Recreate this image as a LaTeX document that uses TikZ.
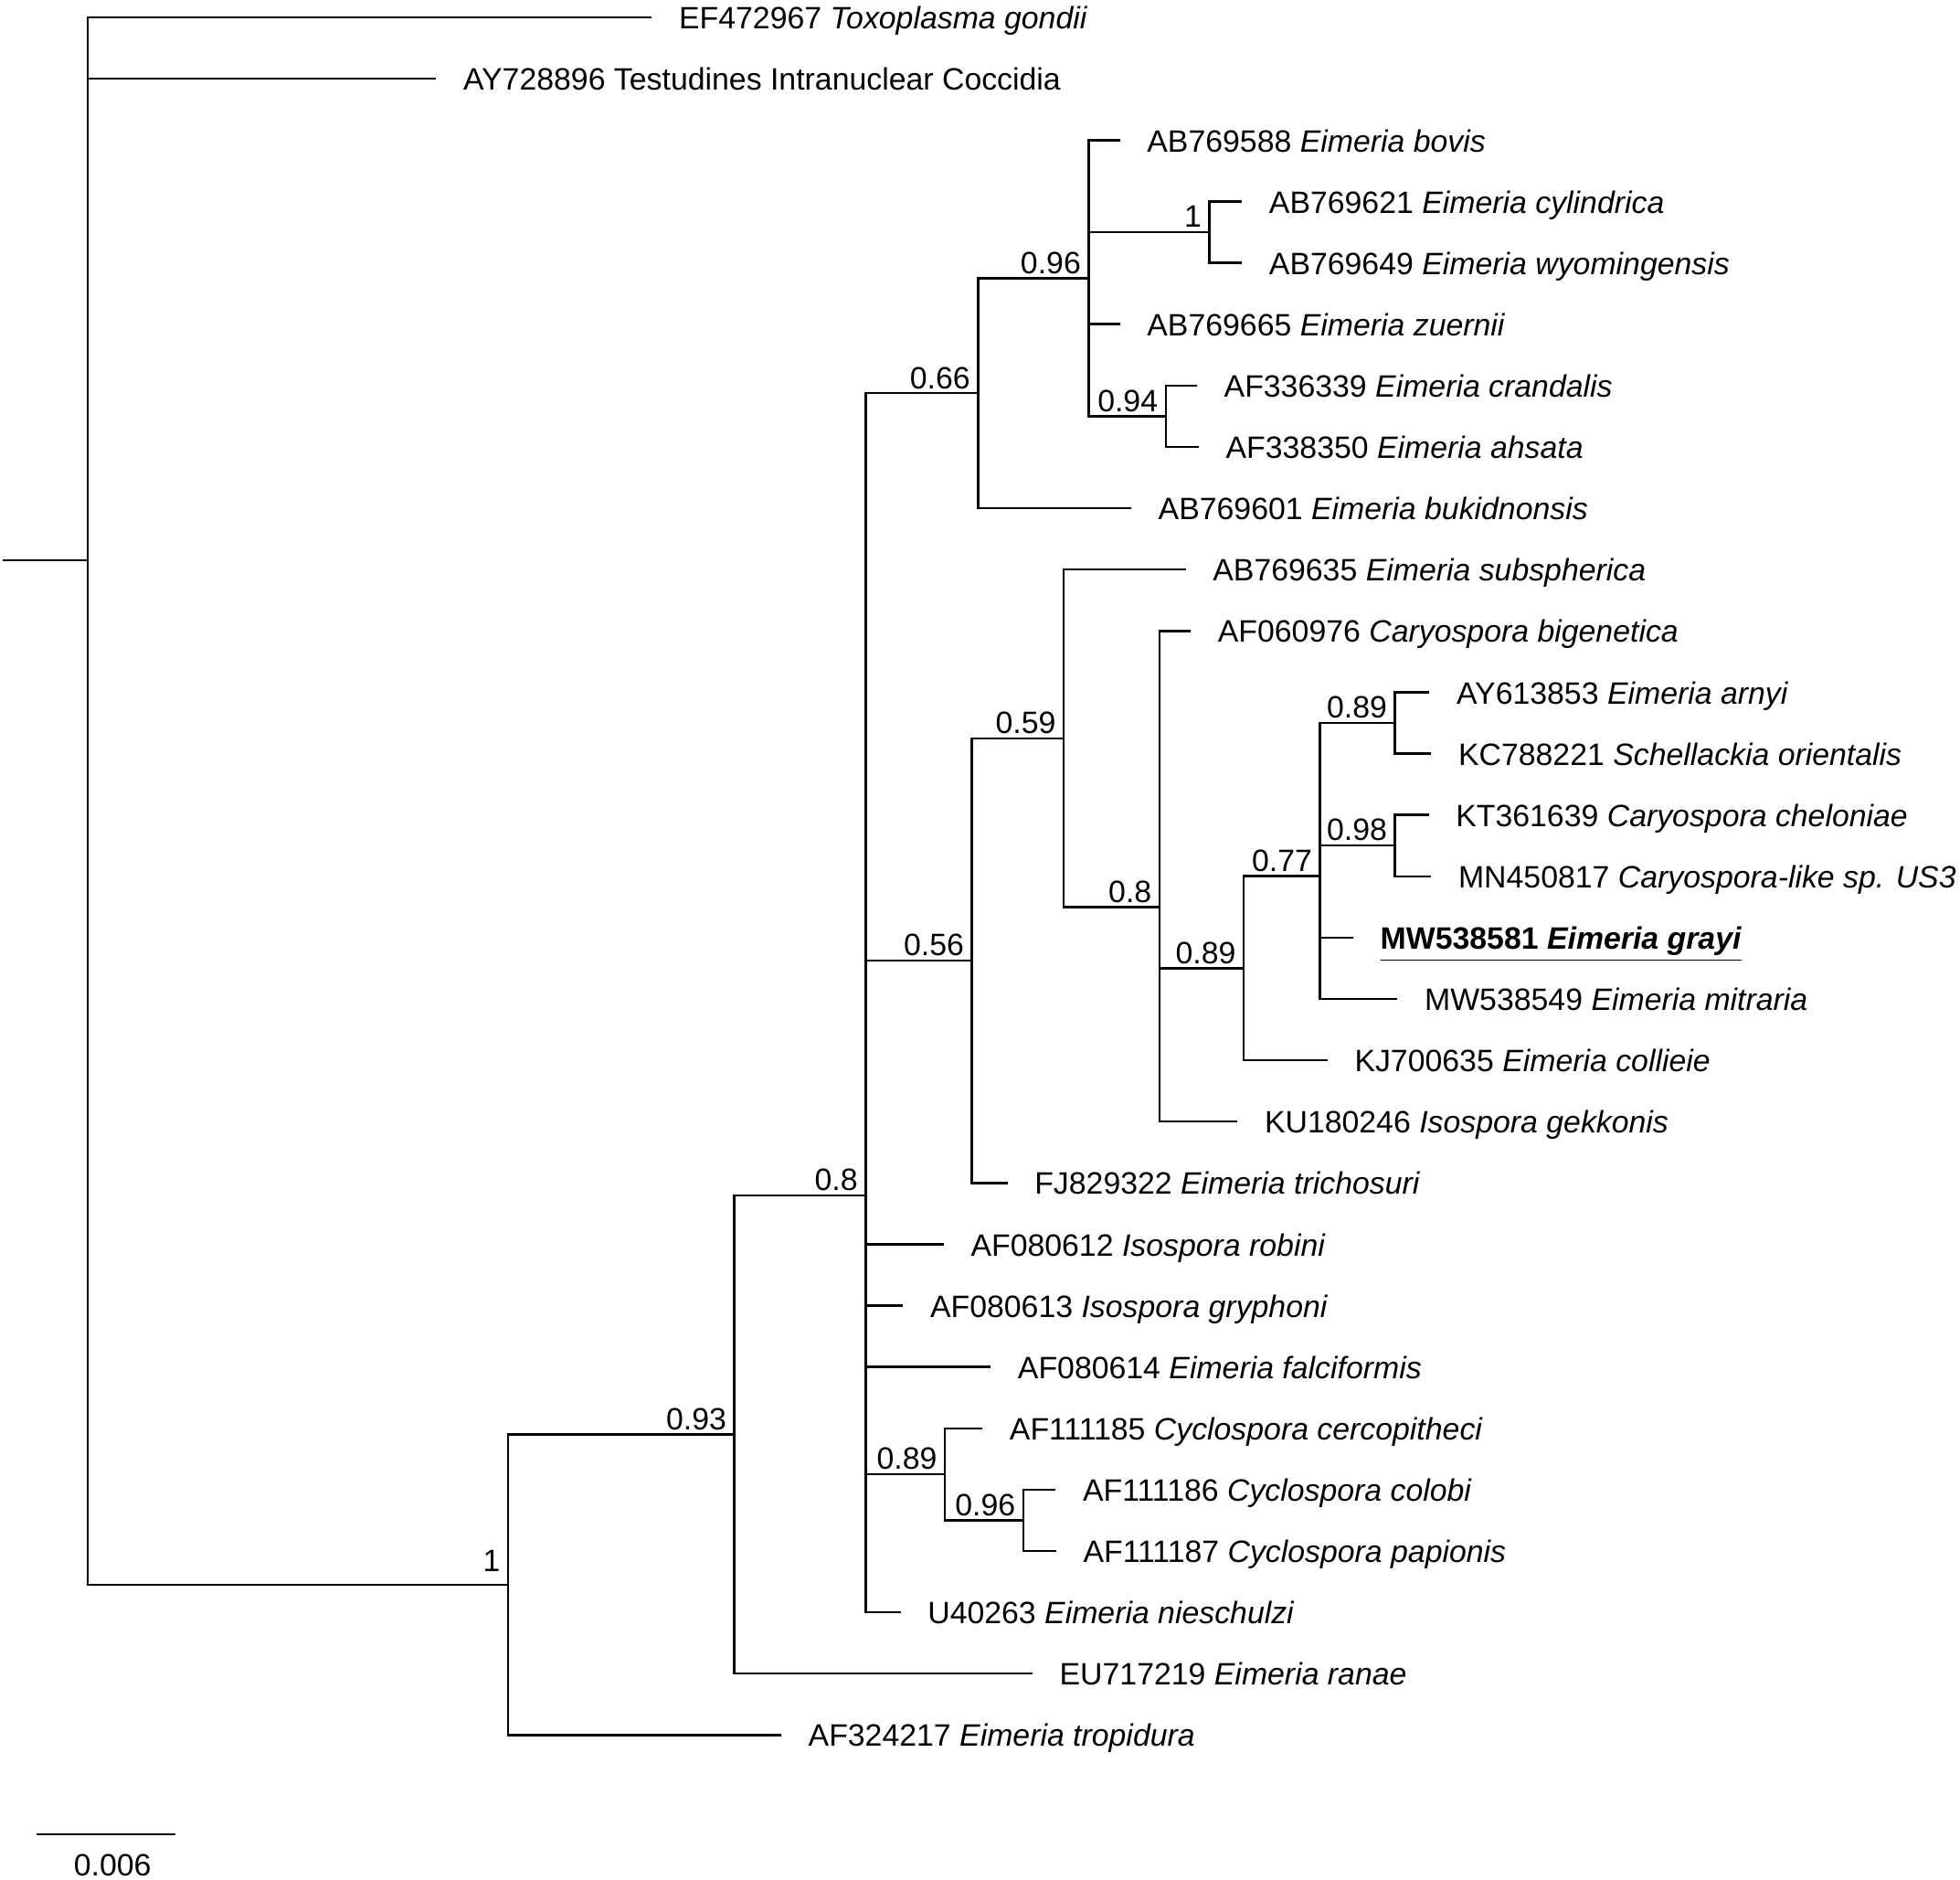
\documentclass[tikz,border=0pt]{standalone}
\usepackage{fontspec}
\setmainfont{Liberation Sans}
\usepackage{tikz}
\usetikzlibrary{positioning}

\begin{document}
\begin{tikzpicture}[
      x=0.01368cm, y=-0.01368cm,
      font=\fontsize{9.63}{11.5}\selectfont,
      branch/.style={line width=0.7pt},
      tip/.style={anchor=west, inner xsep=2.9mm, inner ysep=0pt, text height=0.72em, text depth=0pt},
      supp/.style={anchor=south east, inner xsep=0.8mm, inner ysep=0.45mm, text height=0.72em, text depth=0pt}
    ]
      \useasboundingbox (0,0) rectangle (1568,1503);

      % inner nodes of the tree
      \coordinate (stub) at (2.5,448.2);
      \coordinate (root) at (70,448.2);
      \coordinate (nA) at (406.5,1267.5);
      \coordinate (nB) at (587.5,1147.3);
      \coordinate (nC) at (692.5,956);
      \coordinate (nD) at (782.5,314.5);
      \coordinate (nE) at (871,222.5);
      \coordinate (nF) at (967.6,185.7);
      \coordinate (nG) at (932.6,332.9);
      \coordinate (nH) at (777.5,768.3);
      \coordinate (nI) at (851,590.5);
      \coordinate (nJ) at (927.6,725.4);
      \coordinate (nK) at (995,774.4);
      \coordinate (nL) at (1056,700.8);
      \coordinate (nM) at (1116,578.2);
      \coordinate (nN) at (1116,676.3);
      \coordinate (nO) at (756,1179.2);
      \coordinate (nP) at (818.6,1216);

      % tips
      \node[tip] (t00) at (521.5,14) {EF472967 \textit{Toxoplasma gondii}};
      \node[tip] (t01) at (349,63.06) {AY728896 Testudines Intranuclear Coccidia};
      \node[tip] (t02) at (896,112.12) {AB769588 \textit{Eimeria bovis}};
      \node[tip] (t03) at (993.6,161.18) {AB769621 \textit{Eimeria cylindrica}};
      \node[tip] (t04) at (993.6,210.24) {AB769649 \textit{Eimeria wyomingensis}};
      \node[tip] (t05) at (896,259.3) {AB769665 \textit{Eimeria zuernii}};
      \node[tip] (t06) at (957.6,308.36) {AF336339 \textit{Eimeria crandalis}};
      \node[tip] (t07) at (959,357.42) {AF338350 \textit{Eimeria ahsata}};
      \node[tip] (t08) at (905,406.48) {AB769601 \textit{Eimeria bukidnonsis}};
      \node[tip] (t09) at (948.6,455.54) {AB769635 \textit{Eimeria subspherica}};
      \node[tip] (t10) at (952.6,504.6) {AF060976 \textit{Caryospora bigenetica}};
      \node[tip] (t11) at (1143.6,553.66) {AY613853 \textit{Eimeria arnyi}};
      \node[tip] (t12) at (1145,602.72) {KC788221 \textit{Schellackia orientalis}};
      \node[tip] (t13) at (1143,651.78) {KT361639 \textit{Caryospora cheloniae}};
      \node[tip] (t14) at (1145,700.84) {MN450817 \textit{Caryospora-like sp. US3}};
      \node[tip] (t15) at (1082.6,749.9) {\underline{\textbf{MW538581 \textit{Eimeria grayi}}}};
      \node[tip] (t16) at (1118,798.96) {MW538549 \textit{Eimeria mitraria}};
      \node[tip] (t17) at (1062,848.02) {KJ700635 \textit{Eimeria collieie}};
      \node[tip] (t18) at (990,897.08) {KU180246 \textit{Isospora gekkonis}};
      \node[tip] (t19) at (806,946.14) {FJ829322 \textit{Eimeria trichosuri}};
      \node[tip] (t20) at (755,995.2) {AF080612 \textit{Isospora robini}};
      \node[tip] (t21) at (722.5,1044.26) {AF080613 \textit{Isospora gryphoni}};
      \node[tip] (t22) at (792.6,1093.32) {AF080614 \textit{Eimeria falciformis}};
      \node[tip] (t23) at (786,1142.38) {AF111185 \textit{Cyclospora cercopitheci}};
      \node[tip] (t24) at (844.6,1191.44) {AF111186 \textit{Cyclospora colobi}};
      \node[tip] (t25) at (845,1240.5) {AF111187 \textit{Cyclospora papionis}};
      \node[tip] (t26) at (720.5,1289.56) {U40263 \textit{Eimeria nieschulzi}};
      \node[tip] (t27) at (826,1338.62) {EU717219 \textit{Eimeria ranae}};
      \node[tip] (t28) at (625,1387.68) {AF324217 \textit{Eimeria tropidura}};

      % branches
      \draw[branch] (stub) -- (root);
      \draw[branch] (root) |- (t00.west);
      \draw[branch] (root) |- (t01.west);
      \draw[branch] (root) |- (nA);
      \draw[branch] (nA) |- (nB);
      \draw[branch] (nA) |- (t28.west);
      \draw[branch] (nB) |- (nC);
      \draw[branch] (nB) |- (t27.west);
      \draw[branch] (nC) |- (nD);
      \draw[branch] (nC) |- (nH);
      \draw[branch] (nC) |- (t20.west);
      \draw[branch] (nC) |- (t21.west);
      \draw[branch] (nC) |- (t22.west);
      \draw[branch] (nC) |- (nO);
      \draw[branch] (nC) |- (t26.west);
      \draw[branch] (nD) |- (nE);
      \draw[branch] (nD) |- (t08.west);
      \draw[branch] (nE) |- (t02.west);
      \draw[branch] (nE) |- (nF);
      \draw[branch] (nE) |- (t05.west);
      \draw[branch] (nE) |- (nG);
      \draw[branch] (nF) |- (t03.west);
      \draw[branch] (nF) |- (t04.west);
      \draw[branch] (nG) |- (t06.west);
      \draw[branch] (nG) |- (t07.west);
      \draw[branch] (nH) |- (nI);
      \draw[branch] (nH) |- (t19.west);
      \draw[branch] (nI) |- (t09.west);
      \draw[branch] (nI) |- (nJ);
      \draw[branch] (nJ) |- (t10.west);
      \draw[branch] (nJ) |- (nK);
      \draw[branch] (nJ) |- (t18.west);
      \draw[branch] (nK) |- (nL);
      \draw[branch] (nK) |- (t17.west);
      \draw[branch] (nL) |- (nM);
      \draw[branch] (nL) |- (nN);
      \draw[branch] (nL) |- (t15.west);
      \draw[branch] (nL) |- (t16.west);
      \draw[branch] (nM) |- (t11.west);
      \draw[branch] (nM) |- (t12.west);
      \draw[branch] (nN) |- (t13.west);
      \draw[branch] (nN) |- (t14.west);
      \draw[branch] (nO) |- (t23.west);
      \draw[branch] (nO) |- (nP);
      \draw[branch] (nP) |- (t24.west);
      \draw[branch] (nP) |- (t25.west);

      % posterior support
      \node[supp, inner ysep=1.4mm] (sA) at (nA) {1};
      \node[supp] (sB) at (nB) {0.93};
      \node[supp] (sC) at (nC) {0.8};
      \node[supp] (sD) at (nD) {0.66};
      \node[supp] (sE) at (nE) {0.96};
      \node[supp] (sF) at (nF) {1};
      \node[supp] (sG) at (nG) {0.94};
      \node[supp] (sH) at (nH) {0.56};
      \node[supp] (sI) at (nI) {0.59};
      \node[supp] (sJ) at (nJ) {0.8};
      \node[supp] (sK) at (nK) {0.89};
      \node[supp] (sL) at (nL) {0.77};
      \node[supp] (sM) at (nM) {0.89};
      \node[supp] (sN) at (nN) {0.98};
      \node[supp] (sO) at (nO) {0.89};
      \node[supp] (sP) at (nP) {0.96};

      % scale bar
      \coordinate (bar0) at (29,1467);
      \coordinate (bar1) at (140,1467);
      \coordinate (barmid) at (90,1467);
      \draw[branch] (bar0) -- (bar1);
      \node[inner sep=0pt, text height=0.72em, text depth=0pt, below=1.95mm of barmid] (barlab) {0.006};
    \end{tikzpicture}
\end{document}
